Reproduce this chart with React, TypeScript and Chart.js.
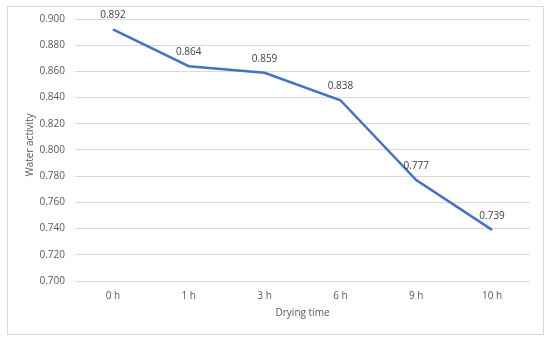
import React, { useEffect, useRef } from "react";
import { Chart, registerables } from "chart.js";

Chart.register(...registerables);

const categories = ["0 h", "1 h", "3 h", "6 h", "9 h", "10 h"];
const waterActivity = [0.892, 0.864, 0.859, 0.838, 0.777, 0.739];
const yMin = 0.7;
const yMax = 0.9;
const yStep = 0.02;
const xTitle = "Drying time";
const yTitle = "Water activity";

const FONT = "'Open Sans', 'Liberation Sans', sans-serif";

const labelPlugin = {
  id: "pointLabels",
  afterDatasetsDraw(chart: any) {
    const ctx = chart.ctx;
    const meta = chart.getDatasetMeta(0);
    const data = chart.data.datasets[0].data;
    ctx.save();
    ctx.font = `10px ${FONT}`;
    ctx.fillStyle = "#404040";
    ctx.textAlign = "center";
    ctx.textBaseline = "middle";
    meta.data.forEach((pt: any, i: number) => {
      ctx.fillText(Number(data[i]).toFixed(3), pt.x, pt.y - 14);
    });
    // y axis title
    const ca = chart.chartArea;
    ctx.translate(30, (ca.top + ca.bottom) / 2 - 5);
    ctx.rotate(-Math.PI / 2);
    ctx.fillStyle = "#595959";
    ctx.fillText(yTitle, 0, 0);
    ctx.restore();
  },
};

export default function App() {
  const ref = useRef<HTMLCanvasElement | null>(null);
  useEffect(() => {
    document.body.style.margin = "0";
    const chart = new Chart(ref.current as HTMLCanvasElement, {
      type: "line",
      data: {
        labels: categories,
        datasets: [
          {
            data: waterActivity,
            borderColor: "#4472C4",
            borderWidth: 2.5,
            pointRadius: 0,
            tension: 0,
            fill: false,
          },
        ],
      },
      options: {
        animation: false,
        responsive: false,
        maintainAspectRatio: false,
        layout: { padding: { left: 0, right: 20, top: 19, bottom: 10 } },
        plugins: { legend: { display: false }, tooltip: { enabled: false } },
        scales: {
          x: {
            offset: true,
            grid: { display: false, drawTicks: false },
            border: { display: false },
            ticks: { color: "#595959", font: { family: FONT, size: 10 }, padding: 9 },
            title: {
              display: true,
              text: xTitle,
              color: "#595959",
              font: { family: FONT, size: 10 },
              padding: { top: 0, bottom: 13 },
            },
            afterFit: (s: any) => {
              s.height = 51;
            },
          },
          y: {
            min: yMin,
            max: yMax,
            grid: { color: "#d9d9d9", lineWidth: 1, drawTicks: false },
            border: { display: false },
            ticks: {
              stepSize: yStep,
              color: "#595959",
              font: { family: FONT, size: 10 },
              padding: 10,
              callback: (v: any) => Number(v).toFixed(3),
            },
            afterFit: (s: any) => {
              s.width = 75;
            },
          },
        },
      },
      plugins: [labelPlugin],
    });
    return () => chart.destroy();
  }, []);
  return (
    <div style={{ position: "relative", width: 550, height: 342, background: "#fff" }}>
      <canvas ref={ref} width={550} height={342} style={{ position: "absolute", left: 0, top: 0 }} />
      <div
        style={{
          position: "absolute",
          left: 7,
          top: 6,
          width: 535,
          height: 327,
          border: "1px solid #d9d9d9",
          pointerEvents: "none",
        }}
      />
    </div>
  );
}
